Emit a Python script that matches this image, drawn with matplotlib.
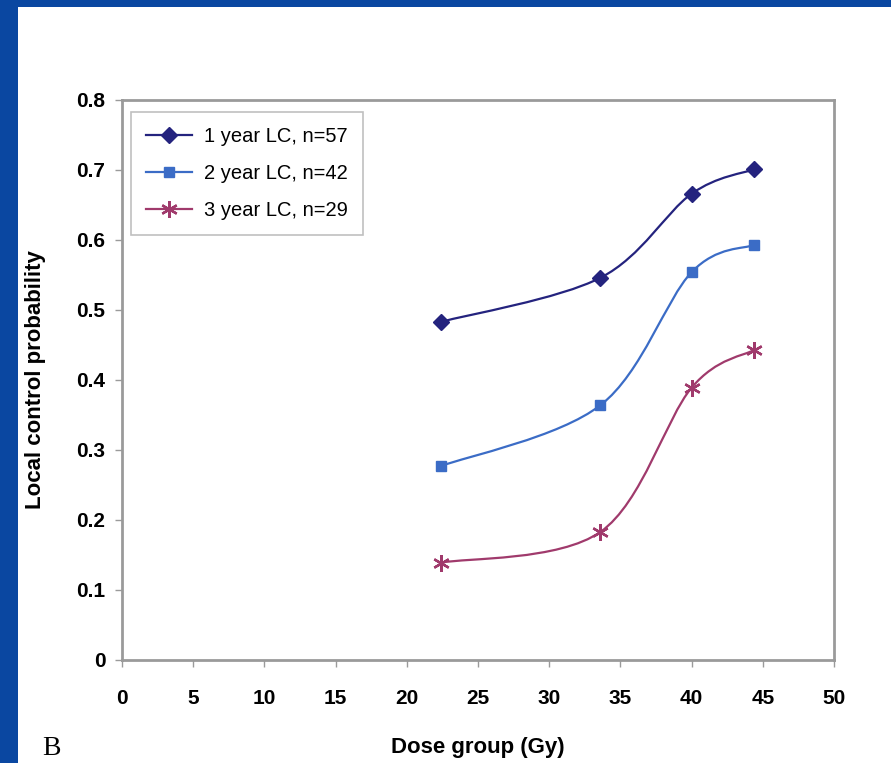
import matplotlib
matplotlib.use("Agg")
import matplotlib.pyplot as plt
from matplotlib.path import Path
from matplotlib.patches import PathPatch, Rectangle

# values
dose = [22.4, 33.6, 40.0, 44.4]
lc_1yr = [0.483, 0.546, 0.666, 0.701]
lc_2yr = [0.277, 0.364, 0.554, 0.593]
lc_3yr = [0.139, 0.183, 0.389, 0.443]
labels = ["1 year LC, n=57", "2 year LC, n=42", "3 year LC, n=29"]
colors = ["#24237e", "#3b6cc6", "#a03a6c"]
markers = ["D", "s", (6, 2, 0)]
xticks = [0, 5, 10, 15, 20, 25, 30, 35, 40, 45, 50]
yticks = [0, 0.1, 0.2, 0.3, 0.4, 0.5, 0.6, 0.7, 0.8]

FONT = ["Liberation Sans Narrow", "Liberation Sans", "DejaVu Sans"]
plt.rcParams["font.family"] = FONT


def smooth_path(xs, ys):
    # Excel-like smoothed line: cubic bezier through the points
    pts = list(zip(xs, ys))
    verts = [pts[0]]
    codes = [Path.MOVETO]
    n = len(pts)
    for i in range(n - 1):
        p0 = pts[i - 1] if i > 0 else pts[i]
        p1 = pts[i]
        p2 = pts[i + 1]
        p3 = pts[i + 2] if i + 2 < n else pts[i + 1]
        c1 = (p1[0] + (p2[0] - p0[0]) / 6, p1[1] + (p2[1] - p0[1]) / 6)
        c2 = (p2[0] - (p3[0] - p1[0]) / 6, p2[1] - (p3[1] - p1[1]) / 6)
        verts += [c1, c2, p2]
        codes += [Path.CURVE4] * 3
    return Path(verts, codes)


fig = plt.figure(figsize=(8.91, 7.63), dpi=100)
fig.patch.set_facecolor("white")

# blue slide frame
fig.patches.append(Rectangle((0, 0.991), 1, 0.009, transform=fig.transFigure,
                             facecolor="#0a47a1", edgecolor="none"))
fig.patches.append(Rectangle((0, 0), 0.020, 1, transform=fig.transFigure,
                             facecolor="#0a47a1", edgecolor="none"))

ax = fig.add_axes([0.137, 0.135, 0.799, 0.734])

for ys, c, m in zip([lc_1yr, lc_2yr, lc_3yr], colors, markers):
    ax.add_patch(PathPatch(smooth_path(dose, ys), facecolor="none",
                           edgecolor=c, lw=1.6, zorder=2))
    ms = 8 if m == "D" else (7.5 if m == "s" else 12)
    mew = 1.7 if m == (6, 2, 0) else 1.0
    ax.plot(dose, ys, linestyle="none", color=c, marker=m,
            markersize=ms, markeredgewidth=mew, zorder=3)

# legend proxies with lines
leg_handles = [plt.Line2D([], [], color=c, lw=1.6, marker=m,
                          markersize=(8 if m == "D" else (7 if m == "s" else 12)),
                          markeredgewidth=(1.7 if m == (6, 2, 0) else 1.0))
               for c, m in zip(colors, markers)]
leg = ax.legend(leg_handles, labels, loc="upper left",
                bbox_to_anchor=(0.012, 0.979), frameon=True, fancybox=False,
                edgecolor="#b0b0b0", fontsize=14.5, handlelength=2.3,
                handletextpad=0.6, borderpad=0.75, labelspacing=0.9,
                borderaxespad=0)
leg.get_frame().set_linewidth(1.2)

ax.set_xlim(0, 50)
ax.set_ylim(0, 0.8)
ax.set_xticks(xticks)
ax.set_yticks(yticks)
ax.set_yticklabels(["0"] + [f"{v:.1f}" for v in yticks[1:]])
for s in ax.spines.values():
    s.set_color("#9a9a9a")
    s.set_linewidth(2)
ax.tick_params(axis="both", colors="#9a9a9a", length=5, width=1,
               labelcolor="black", labelsize=15)
ax.tick_params(axis="x", pad=16)
ax.tick_params(axis="y", pad=7)
for t in ax.get_xticklabels() + ax.get_yticklabels():
    t.set_fontweight("bold")

ax.set_ylabel("Local control probability", fontsize=16, fontweight="bold",
              labelpad=22)
ax.set_xlabel("Dose group (Gy)", fontsize=16, fontweight="bold", labelpad=21)

fig.text(0.047, 0.011, "B", fontsize=20, family="Liberation Serif",
         ha="left", va="baseline")

fig.savefig("out.png", dpi=100)
